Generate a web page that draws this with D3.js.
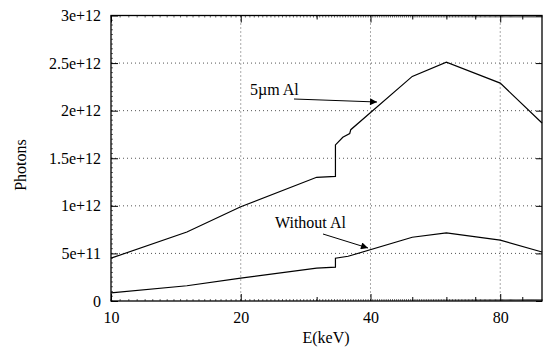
<!DOCTYPE html>
<html>
<head>
<meta charset="utf-8">
<script src="https://d3js.org/d3.v7.min.js"></script>
<style>
  body { margin: 0; background: #fff; }
  text { font-family: "Liberation Serif", "Times New Roman", serif; fill: #000; }
</style>
</head>
<body>
<div class="chart"></div>
<script>
// datos (energía en keV, fotones)
var energyAl = [10, 15, 20, 30, 33.17, 33.17, 34.5, 35.8, 36, 50, 60, 80, 100];
var photonsAl = [4.5e11, 7.25e11, 9.9e11, 1.30e12, 1.31e12, 1.64e12, 1.72e12, 1.76e12, 1.80e12, 2.36e12, 2.51e12, 2.29e12, 1.87e12];
var energyNoAl = [10, 15, 20, 30, 33.17, 33.17, 35.5, 50, 60, 80, 100];
var photonsNoAl = [8.5e10, 1.6e11, 2.4e11, 3.45e11, 3.55e11, 4.5e11, 4.7e11, 6.7e11, 7.15e11, 6.4e11, 5.15e11];
var yTicks = [0, 5e11, 1e12, 1.5e12, 2e12, 2.5e12, 3e12];
var yTickLabels = ["0", "5e+11", "1e+12", "1.5e+12", "2e+12", "2.5e+12", "3e+12"];
var xTicks = [10, 20, 40, 80];
var xMinor = [30, 50, 60, 70, 90];

var width = 548, height = 347;
var pLeft = 111, pRight = 542, pTop = 15.5, pBottom = 301;

var svg = d3.select(".chart")
  .append("svg")
  .attr("width", width)
  .attr("height", height)
  .style("background", "#FFFFFF");

var x = d3.scaleLog().domain([10, 100]).range([pLeft, pRight]);
var y = d3.scaleLinear().domain([0, 3e12]).range([pBottom, pTop]);

// rejilla punteada
svg.append("g").selectAll("line")
  .data(yTicks.slice(1, -1))
  .enter().append("line")
  .attr("x1", pLeft).attr("x2", pRight)
  .attr("y1", function(d) { return y(d); })
  .attr("y2", function(d) { return y(d); })
  .attr("stroke", "#555").attr("stroke-width", 1)
  .attr("stroke-dasharray", "1,3");

svg.append("g").selectAll("line")
  .data(xTicks.slice(1))
  .enter().append("line")
  .attr("x1", function(d) { return x(d); })
  .attr("x2", function(d) { return x(d); })
  .attr("y1", pTop).attr("y2", pBottom)
  .attr("stroke", "#555").attr("stroke-width", 1)
  .attr("stroke-dasharray", "1,3");

// mini marcas densas en los ejes
var yMini = d3.range(0, 3e12 + 1, 5e10);
svg.append("g").selectAll("line")
  .data(yMini)
  .enter().append("line")
  .attr("x1", pLeft).attr("x2", pLeft + 2)
  .attr("y1", function(d) { return y(d); })
  .attr("y2", function(d) { return y(d); })
  .attr("stroke", "#000").attr("stroke-width", 0.6);

var xMini = d3.range(10, 100.01, 0.5);
svg.append("g").selectAll("line")
  .data(xMini)
  .enter().append("line")
  .attr("x1", function(d) { return x(d); })
  .attr("x2", function(d) { return x(d); })
  .attr("y1", pBottom).attr("y2", pBottom - 2)
  .attr("stroke", "#000").attr("stroke-width", 0.6);
svg.append("g").selectAll("line")
  .data(xMini)
  .enter().append("line")
  .attr("x1", function(d) { return x(d); })
  .attr("x2", function(d) { return x(d); })
  .attr("y1", pTop).attr("y2", pTop + 2)
  .attr("stroke", "#000").attr("stroke-width", 0.6);

// ejes con d3
var yAxis = d3.axisLeft(y).tickValues(yTicks).tickSize(-7).tickPadding(10)
  .tickFormat(function(d, i) { return yTickLabels[i]; });
var gy = svg.append("g").attr("transform", "translate(" + pLeft + ",0)").call(yAxis);

var yAxisR = d3.axisRight(y).tickValues(yTicks).tickSize(-6).tickFormat("");
var gyr = svg.append("g").attr("transform", "translate(" + pRight + ",0)").call(yAxisR);

var xAxis = d3.axisBottom(x).tickValues(xTicks).tickSize(-7).tickPadding(11)
  .tickFormat(d3.format("d"));
var gx = svg.append("g").attr("transform", "translate(0," + pBottom + ")").call(xAxis);

var xAxisMinor = d3.axisBottom(x).tickValues(xMinor).tickSize(-4).tickFormat("");
var gxm = svg.append("g").attr("transform", "translate(0," + pBottom + ")").call(xAxisMinor);

var xAxisTop = d3.axisTop(x).tickValues(xTicks).tickSize(-7).tickFormat("");
var gxt = svg.append("g").attr("transform", "translate(0," + pTop + ")").call(xAxisTop);
var xAxisTopMinor = d3.axisTop(x).tickValues(xMinor).tickSize(-4).tickFormat("");
var gxtm = svg.append("g").attr("transform", "translate(0," + pTop + ")").call(xAxisTopMinor);

[gy, gyr, gx, gxm, gxt, gxtm].forEach(function(g) {
  g.select(".domain").remove();
  g.selectAll("line").attr("stroke", "#000").attr("stroke-width", 1);
  g.selectAll("text")
    .style("font-family", "'Liberation Serif', 'Times New Roman', serif")
    .style("font-size", "16px")
    .attr("fill", "#000");
});

// marco
svg.append("rect")
  .attr("x", pLeft).attr("y", pTop)
  .attr("width", pRight - pLeft).attr("height", pBottom - pTop)
  .attr("fill", "none").attr("stroke", "#000").attr("stroke-width", 1.3);

// curvas
var line = d3.line()
  .x(function(d) { return x(d[0]); })
  .y(function(d) { return y(d[1]); });

svg.append("path")
  .datum(d3.zip(energyAl, photonsAl))
  .attr("d", line)
  .attr("fill", "none").attr("stroke", "#000").attr("stroke-width", 1.2);

svg.append("path")
  .datum(d3.zip(energyNoAl, photonsNoAl))
  .attr("d", line)
  .attr("fill", "none").attr("stroke", "#000").attr("stroke-width", 1.2);

// etiquetas de ejes
svg.append("text")
  .attr("x", (pLeft + pRight) / 2 - 0.5)
  .attr("y", 343)
  .attr("text-anchor", "middle")
  .style("font-size", "16px")
  .text("E(keV)");

svg.append("text")
  .attr("transform", "translate(26," + 165 + ") rotate(-90)")
  .attr("text-anchor", "middle")
  .style("font-size", "16px")
  .text("Photons");

// anotaciones con flechas
svg.append("defs").append("marker")
  .attr("id", "arrow")
  .attr("viewBox", "0 0 10 10")
  .attr("refX", 10).attr("refY", 5)
  .attr("markerWidth", 9).attr("markerHeight", 7)
  .attr("markerUnits", "userSpaceOnUse")
  .attr("orient", "auto")
  .append("path")
  .attr("d", "M0,0 L10,5 L0,10 z")
  .attr("fill", "#000");

svg.append("text")
  .attr("x", 250).attr("y", 95)
  .style("font-size", "16px")
  .text("5\u00b5m Al");

svg.append("line")
  .attr("x1", 294).attr("y1", 99)
  .attr("x2", 377).attr("y2", 102)
  .attr("stroke", "#000").attr("stroke-width", 1)
  .attr("marker-end", "url(#arrow)");

svg.append("text")
  .attr("x", 275).attr("y", 228)
  .style("font-size", "16px")
  .text("Without Al");

svg.append("line")
  .attr("x1", 323).attr("y1", 234)
  .attr("x2", 368).attr("y2", 248)
  .attr("stroke", "#000").attr("stroke-width", 1)
  .attr("marker-end", "url(#arrow)");
</script>
</body>
</html>
